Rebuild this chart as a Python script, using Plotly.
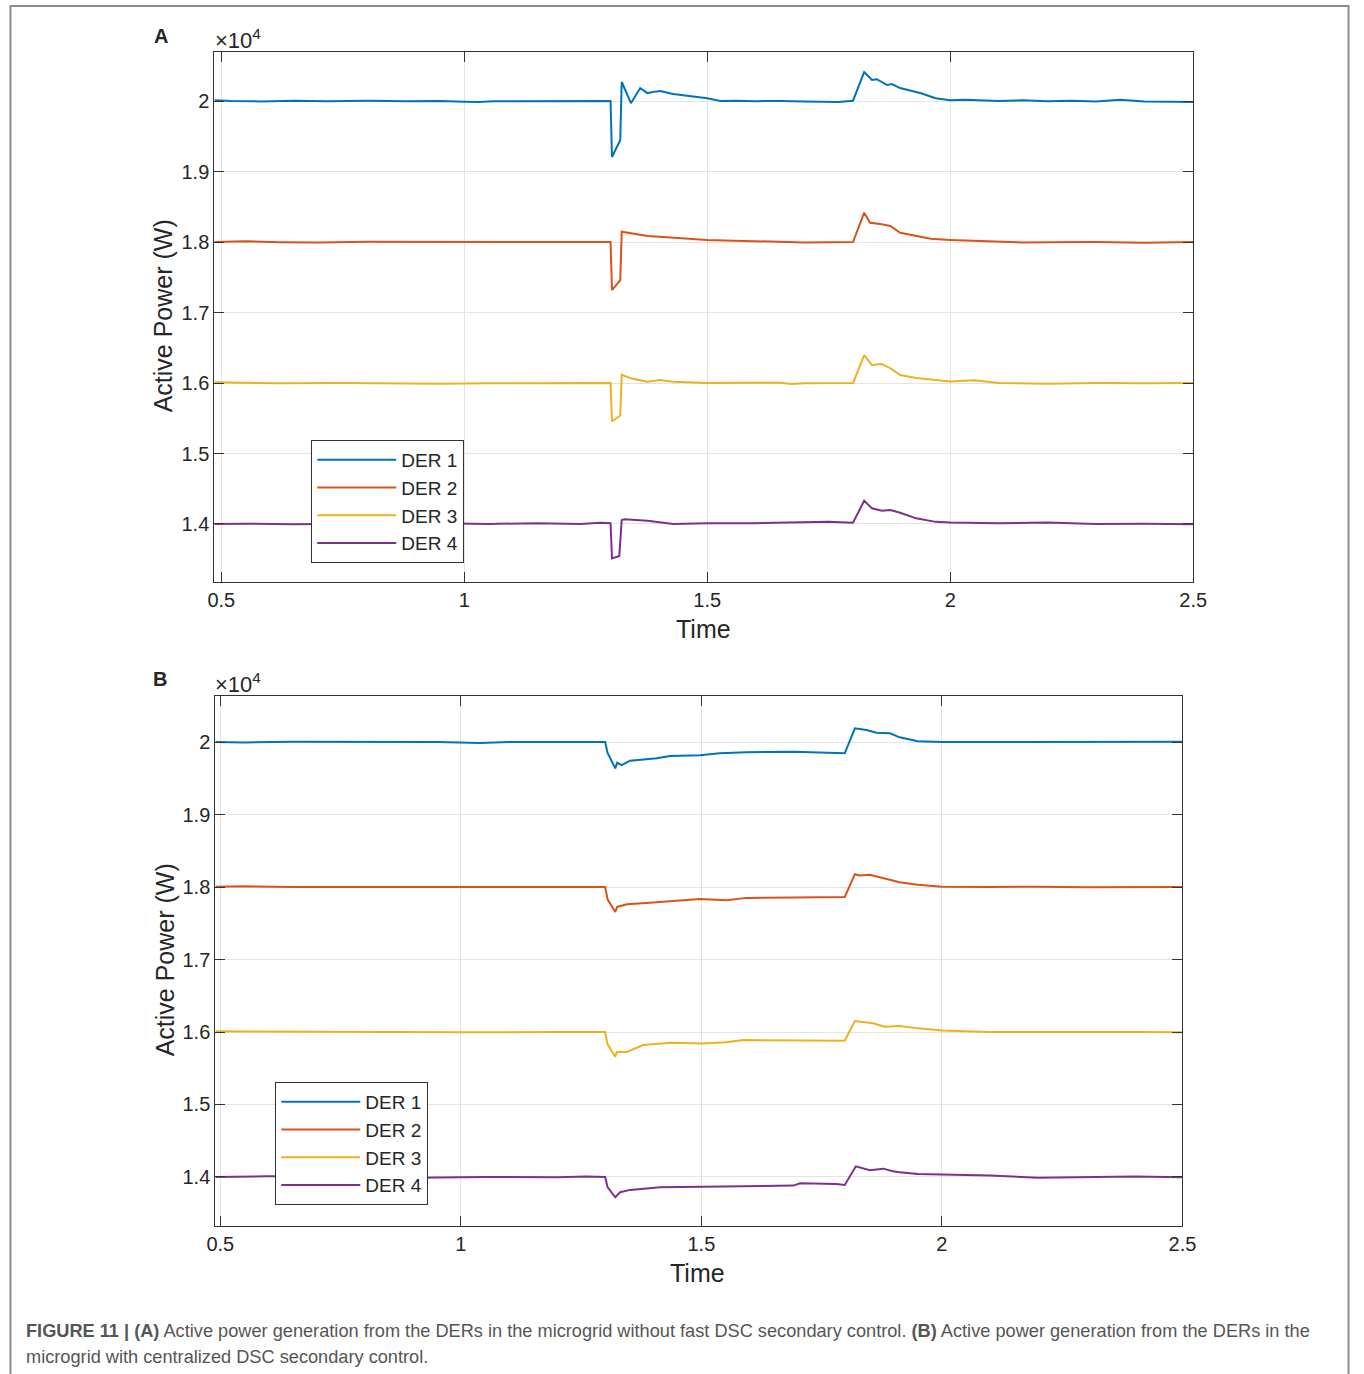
import plotly.graph_objects as go

W, H = 1364, 1374

names = ["DER 1", "DER 2", "DER 3", "DER 4"]
colors = ["#0072BD", "#D95319", "#EDB120", "#7E2F8E"]

# ---- Panel A (without fast DSC secondary control): (time, power W) ----
A_DER1 = [(0.486, 20010), (0.52, 20000), (0.58, 19995), (0.65, 20005), (0.72, 19998), (0.80, 20003),
          (0.88, 19997), (0.95, 20000), (1.00, 19990), (1.03, 19985), (1.06, 19998), (1.12, 20000),
          (1.20, 20002), (1.301, 20000), (1.304, 19206), (1.321, 19447), (1.324, 20270), (1.343, 19970),
          (1.362, 20184), (1.377, 20113), (1.39, 20130), (1.403, 20142), (1.43, 20100), (1.459, 20071),
          (1.50, 20040), (1.527, 20000), (1.56, 20005), (1.60, 19998), (1.65, 20002), (1.70, 19995),
          (1.74, 19985), (1.77, 19988), (1.80, 20005), (1.823, 20411), (1.839, 20298), (1.849, 20310),
          (1.870, 20227), (1.880, 20241), (1.897, 20184), (1.92, 20150), (1.94, 20110), (1.97, 20040),
          (2.00, 20010), (2.03, 20020), (2.06, 20010), (2.10, 20000), (2.15, 20012), (2.20, 19998),
          (2.25, 20005), (2.30, 19995), (2.35, 20020), (2.40, 19992), (2.45, 19990), (2.50, 19985)]
A_DER2 = [(0.486, 18000), (0.55, 18010), (0.62, 17998), (0.70, 17995), (0.80, 18003), (0.90, 18000),
          (1.00, 17997), (1.10, 18000), (1.20, 18002), (1.301, 18000), (1.304, 17319), (1.321, 17461),
          (1.324, 18146), (1.343, 18123), (1.377, 18085), (1.417, 18066), (1.46, 18045), (1.50, 18028),
          (1.555, 18019), (1.60, 18010), (1.65, 18005), (1.70, 17995), (1.75, 17998), (1.80, 18000),
          (1.823, 18416), (1.835, 18274), (1.856, 18255), (1.877, 18227), (1.897, 18132), (1.93, 18090),
          (1.96, 18045), (2.00, 18030), (2.05, 18020), (2.10, 18010), (2.15, 17995), (2.20, 17998),
          (2.30, 18000), (2.40, 17990), (2.50, 18000)]
A_DER3 = [(0.486, 16010), (0.55, 16000), (0.62, 15995), (0.75, 16000), (0.85, 15995), (0.95, 15990),
          (1.05, 15998), (1.15, 16000), (1.25, 16000), (1.301, 16000), (1.304, 15457), (1.321, 15539),
          (1.324, 16117), (1.343, 16066), (1.377, 16019), (1.403, 16043), (1.43, 16019), (1.50, 16000),
          (1.58, 16005), (1.65, 16003), (1.674, 15986), (1.70, 15998), (1.80, 16000), (1.823, 16397),
          (1.839, 16255), (1.859, 16270), (1.877, 16209), (1.897, 16114), (1.93, 16070), (1.96, 16050),
          (2.00, 16020), (2.05, 16040), (2.10, 16000), (2.20, 15990), (2.30, 16000), (2.40, 15995),
          (2.50, 16000)]
A_DER4 = [(0.486, 14000), (0.55, 14005), (0.65, 13998), (0.75, 14005), (0.85, 13995), (0.95, 14010),
          (1.05, 14000), (1.15, 14012), (1.239, 14000), (1.28, 14019), (1.301, 14010), (1.304, 13512),
          (1.319, 13546), (1.324, 14057), (1.33, 14067), (1.377, 14047), (1.43, 14000), (1.50, 14010),
          (1.594, 14010), (1.674, 14024), (1.75, 14030), (1.80, 14019), (1.823, 14330), (1.839, 14222),
          (1.859, 14188), (1.877, 14199), (1.897, 14160), (1.93, 14080), (1.97, 14030), (2.00, 14020),
          (2.10, 14010), (2.20, 14020), (2.30, 14000), (2.40, 14005), (2.50, 13995)]

# ---- Panel B (with centralized DSC secondary control) ----
B_DER1 = [(0.49, 20000), (0.55, 19995), (0.65, 20005), (0.75, 20000), (0.85, 20003), (0.95, 20000),
          (1.04, 19985), (1.10, 20000), (1.20, 20000), (1.30, 20000), (1.305, 19850), (1.321, 19637),
          (1.325, 19714), (1.334, 19682), (1.352, 19742), (1.407, 19775), (1.435, 19807), (1.497, 19816),
          (1.538, 19844), (1.594, 19858), (1.691, 19867), (1.75, 19860), (1.798, 19844), (1.819, 20189),
          (1.843, 20166), (1.864, 20129), (1.892, 20120), (1.912, 20065), (1.95, 20010), (2.00, 20000),
          (2.10, 20000), (2.20, 20005), (2.30, 20000), (2.40, 20000), (2.50, 20005)]
B_DER2 = [(0.49, 18005), (0.55, 18010), (0.65, 18000), (0.80, 18000), (1.00, 18000), (1.20, 18000),
          (1.30, 18000), (1.305, 17830), (1.321, 17656), (1.325, 17725), (1.345, 17762), (1.386, 17780),
          (1.435, 17808), (1.497, 17836), (1.552, 17818), (1.594, 17850), (1.691, 17855), (1.798, 17863),
          (1.819, 18177), (1.829, 18159), (1.850, 18168), (1.871, 18131), (1.912, 18066), (1.95, 18030),
          (2.00, 18005), (2.10, 18000), (2.20, 18005), (2.30, 17995), (2.40, 18000), (2.50, 18000)]
B_DER3 = [(0.49, 16010), (0.60, 16005), (0.80, 16000), (1.00, 15995), (1.20, 16000), (1.30, 16000),
          (1.305, 15830), (1.321, 15659), (1.324, 15728), (1.345, 15724), (1.379, 15820), (1.435, 15851),
          (1.504, 15843), (1.552, 15857), (1.587, 15889), (1.691, 15880), (1.798, 15880), (1.819, 16152),
          (1.857, 16120), (1.881, 16074), (1.912, 16083), (1.95, 16050), (2.00, 16020), (2.10, 16000),
          (2.20, 15995), (2.30, 16000), (2.40, 16000), (2.50, 15995)]
B_DER4 = [(0.49, 14000), (0.60, 14010), (0.75, 14005), (0.90, 13990), (1.05, 14000), (1.20, 13995),
          (1.26, 14005), (1.30, 14000), (1.305, 13860), (1.321, 13720), (1.331, 13789), (1.352, 13822),
          (1.414, 13858), (1.504, 13867), (1.594, 13867), (1.691, 13881), (1.705, 13913), (1.781, 13904),
          (1.798, 13890), (1.821, 14147), (1.850, 14092), (1.878, 14115), (1.898, 14078), (1.912, 14064),
          (1.95, 14040), (2.00, 14035), (2.10, 14020), (2.20, 13990), (2.30, 14000), (2.40, 14005),
          (2.50, 13995)]

xtick_vals = [0.5, 1, 1.5, 2, 2.5]
xtick_text = ["0.5", "1", "1.5", "2", "2.5"]
ytick_vals = [14000, 15000, 16000, 17000, 18000, 19000, 20000]
ytick_text = ["1.4", "1.5", "1.6", "1.7", "1.8", "1.9", "2"]

caption1 = ("<b>FIGURE 11 | (A)</b> Active power generation from the DERs in the microgrid without fast "
            "DSC secondary control. <b>(B)</b> Active power generation from the DERs in the")
caption2 = "microgrid with centralized DSC secondary control."

FONT = "Liberation Sans, Arial, sans-serif"

# horizontal placement correction observed in the rendered page
SX, OX = 0.984, 8.5


def fx(px):
    return (px - OX) / SX / W


def fy(py):
    return 1 - py / H


fig = go.Figure()
for series, axes, leg in [([A_DER1, A_DER2, A_DER3, A_DER4], ("x", "y"), "legend"),
                          ([B_DER1, B_DER2, B_DER3, B_DER4], ("x2", "y2"), "legend2")]:
    for s, name, col in zip(series, names, colors):
        fig.add_trace(go.Scatter(
            x=[p[0] for p in s], y=[p[1] for p in s], mode="lines", name=name,
            line=dict(color=col, width=2), xaxis=axes[0], yaxis=axes[1], legend=leg,
            showlegend=True))

axis_common = dict(ticks="inside", ticklen=10, tickwidth=1, tickcolor="#333",
                   showline=True, linecolor="#333", linewidth=1, mirror="ticks",
                   showgrid=True, gridcolor="#e4e4e4", gridwidth=1, zeroline=False,
                   tickfont=dict(size=20, color="#262626", family=FONT))

legend_common = dict(xanchor="left", yanchor="top", bgcolor="white", bordercolor="#333",
                     borderwidth=1, font=dict(size=19, family=FONT, color="#262626"),
                     tracegroupgap=0, itemwidth=79)

fig.update_layout(
    width=W, height=H, margin=dict(l=0, r=0, t=0, b=0),
    paper_bgcolor="white", plot_bgcolor="white",
    font=dict(family=FONT, color="#262626"),
    xaxis=dict(domain=[fx(214), fx(1193.7)], range=[0.4856, 2.5], anchor="y",
               tickvals=xtick_vals, ticktext=xtick_text, **axis_common),
    yaxis=dict(domain=[fy(582), fy(51.7)], range=[13177, 20700], anchor="x",
               tickvals=ytick_vals, ticktext=ytick_text, **axis_common),
    xaxis2=dict(domain=[fx(215), fx(1183)], range=[0.4896, 2.5], anchor="y2",
                tickvals=xtick_vals, ticktext=xtick_text, **axis_common),
    yaxis2=dict(domain=[fy(1225.7), fy(695.7)], range=[13328, 20639], anchor="x2",
                tickvals=ytick_vals, ticktext=ytick_text, **axis_common),
    legend=dict(x=fx(311), y=fy(440), **legend_common),
    legend2=dict(x=fx(275), y=fy(1082), **legend_common),
)


def ann(text, x, y, size, xanchor="center", yanchor="middle", angle=0, color="#262626"):
    fig.add_annotation(text=text, x=fx(x), y=fy(y), xref="paper", yref="paper",
                       xanchor=xanchor, yanchor=yanchor, showarrow=False, textangle=angle,
                       font=dict(size=size, family=FONT, color=color))


ann("<b>A</b>", 161, 36, 20)
ann("<b>B</b>", 160, 679, 20)
ann("\u00d710<sup>4</sup>", 238, 39, 22)
ann("\u00d710<sup>4</sup>", 238, 683, 22)
ann("Active Power (W)", 163, 316, 25, angle=-90)
ann("Active Power (W)", 165, 960, 25, angle=-90)
ann("Time", 704, 629, 25)
ann("Time", 698, 1273, 25)
ann(caption1, 24, 1331, 18.2, xanchor="left", color="#555555")
ann(caption2, 24, 1357, 18.2, xanchor="left", color="#555555")

# outer figure frame
fig.add_shape(type="rect", xref="paper", yref="paper",
              x0=max(fx(7), 1.5 / W), x1=min(fx(1358), 1 - 1.5 / W),
              y0=-0.02, y1=fy(6), line=dict(color="#8c8c8c", width=2),
              fillcolor="rgba(0,0,0,0)")

fig.write_html("out.html", config={"displayModeBar": False},
               post_script="document.body.style.margin='0';document.body.style.overflow='hidden';"
                           "document.documentElement.style.overflow='hidden';")
